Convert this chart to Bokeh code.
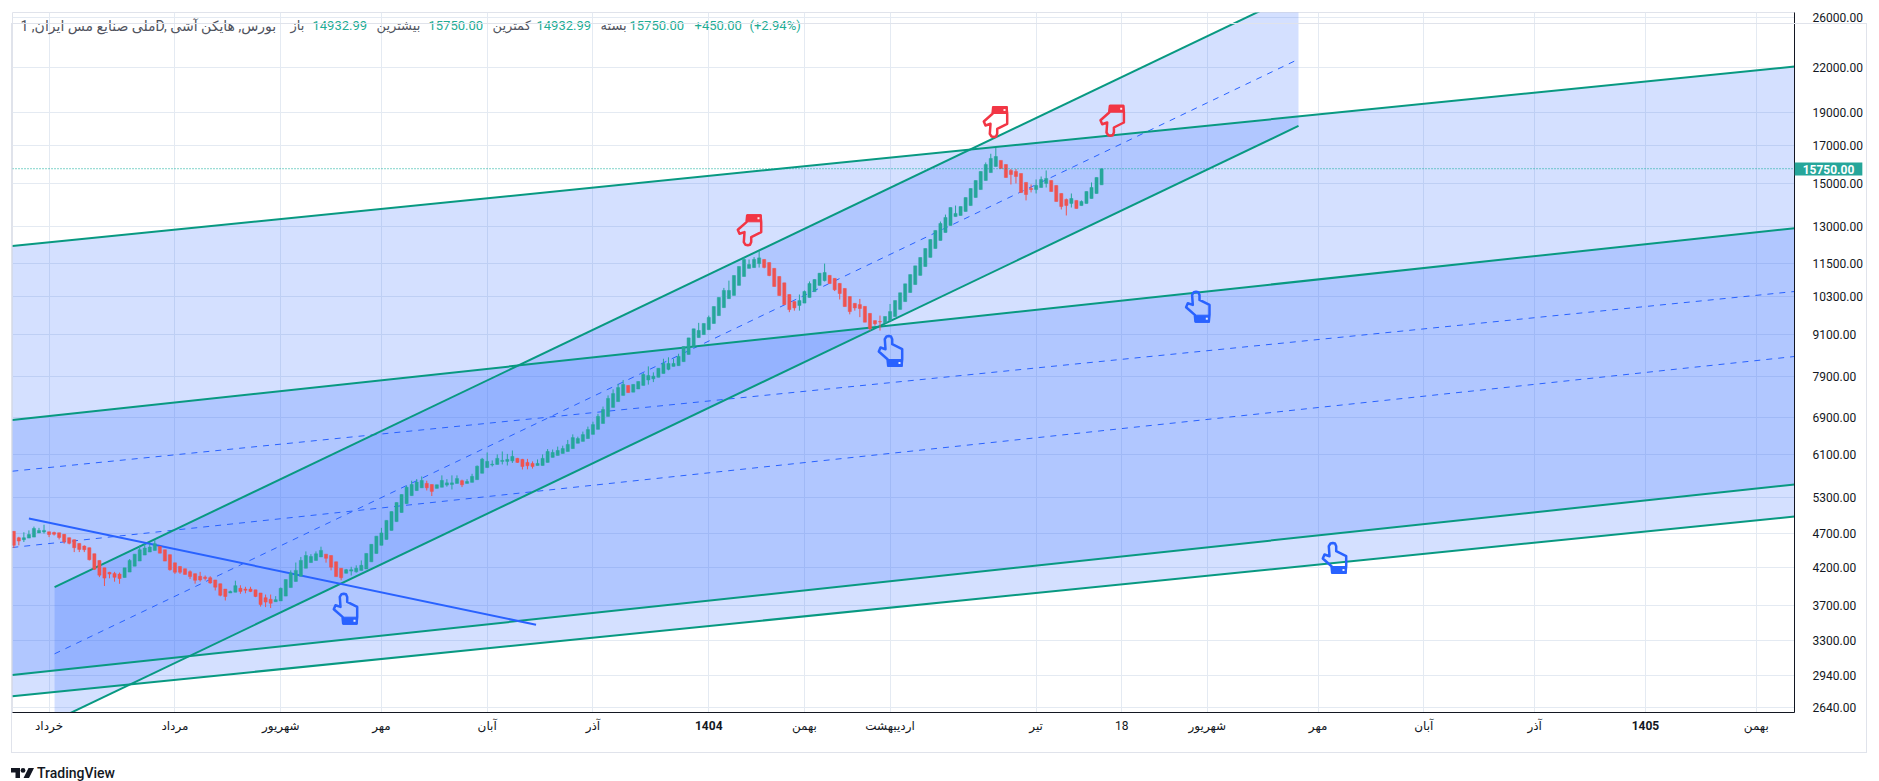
import math
from bokeh.plotting import figure
from bokeh.embed import file_html
from bokeh.layouts import column
from bokeh.resources import INLINE
from bokeh.models import (ColumnDataSource, Div, FixedTicker, Label, LinearAxis, PolyAnnotation,
                          PrintfTickFormatter, Range1d, Span)

# ---- data -----------------------------------------------------------------------
opens = [4735,4635,4605,4630,4645,4710,4725,4727,4716,4712,4688,4636,4606,4549,4509,4485,4396,4299,4196,4133,
 4119,4109,4063,4137,4219,4291,4377,4421,4445,4503,4454,4383,4265,4214,4183,4143,4115,4079,4068,4061,
 4030,3980,3910,3860,3870,3920,3910,3910,3900,3860,3800,3780,3750,3760,3820,3930,4010,4080,4190,4270,
 4300,4350,4390,4370,4280,4190,4120,4150,4140,4160,4180,4280,4400,4520,4610,4750,4890,5040,5190,5330,
 5420,5470,5550,5530,5460,5480,5520,5530,5550,5600,5550,5570,5620,5740,5850,5900,5910,5970,5970,5980,
 6030,6010,5950,5930,5890,5890,5950,6050,6090,6130,6170,6230,6340,6380,6440,6530,6640,6770,6930,7140,
 7280,7430,7680,7510,7590,7680,7820,7850,7890,7990,8100,8180,8200,8310,8510,8740,9000,9090,9240,9430,
 9680,9940,10240,10350,10700,11020,11320,11350,11500,11660,11540,11320,11020,10790,10380,10140,10010,10090,10280,10480,
 10700,10870,11060,10950,10770,10590,10310,10080,10040,9980,9750,9520,9490,9450,9520,9650,9880,10140,10450,10730,
 11060,11390,11740,12090,12420,12750,13050,13440,13490,13670,13940,14320,14700,15150,15550,15870,16190,15970,15660,15610,
 15500,15050,14750,14700,14800,15000,15150,14900,14510,14220,14040,14180,13940,14040,14270,14510,14932.99]
closes = [4520,4585,4635,4685,4780,4750,4750,4685,4690,4640,4575,4550,4485,4460,4455,4310,4175,4095,4055,4110,
 4065,4050,4195,4300,4390,4455,4480,4495,4545,4405,4290,4170,4135,4135,4105,4075,4025,4030,4050,3990,
 3935,3830,3815,3880,3955,3880,3895,3880,3815,3715,3745,3730,3775,3920,4035,4125,4160,4300,4370,4355,
 4395,4445,4330,4205,4075,4060,4170,4170,4190,4230,4400,4535,4660,4710,4910,5055,5210,5350,5480,5530,
 5575,5605,5470,5405,5525,5605,5560,5560,5640,5525,5585,5680,5875,6015,5970,5915,6030,5990,6010,6070,
 5950,5870,5885,5870,5930,6030,6170,6150,6190,6230,6315,6460,6440,6525,6635,6745,6930,7090,7355,7475,
 7625,7705,7500,7705,7780,7965,7935,7920,8130,8260,8260,8260,8455,8735,8990,9265,9215,9430,9620,9975,
 10280,10520,10520,11055,11390,11660,11465,11660,11720,11355,11055,10660,10345,10040,9875,9930,10175,10485,10765,10910,
 11140,11165,10765,10545,10415,9975,9810,9930,9910,9470,9275,9420,9480,9650,9810,10175,10440,10755,11090,11415,
 11735,12090,12455,12835,13135,13400,13850,13580,13895,14315,14750,15145,15605,15970,16295,16400,15760,15300,15450,15350,
 14555,14460,14700,14900,15200,15250,14605,14130,13895,13945,14270,13805,14130,14605,14800,15300,15750]
wick_highs = {1:4650,2:4720,3:4750,4:4810,5:4790,6:4840,8:4730,14:4520,19:4140,20:4140,21:4130,23:4320,25:4520,26:4540,27:4540,28:4600,35:4160,37:4140,38:4090,39:4080,
 43:3890,44:4020,45:3960,46:3940,47:3940,50:3840,51:3840,52:3820,53:3930,55:4160,56:4270,57:4350,58:4430,59:4390,60:4430,61:4500,66:4180,67:4210,68:4230,69:4300,
 73:4790,78:5510,79:5600,80:5630,81:5680,82:5600,85:5700,86:5630,87:5700,88:5700,89:5620,90:5630,91:5730,92:5890,93:6040,94:6150,95:5990,96:6110,97:6170,98:6120,
 99:6190,100:6040,101:6020,102:6020,103:5970,104:6010,105:6110,106:6220,107:6210,108:6270,109:6290,110:6410,111:6530,112:6480,113:6590,114:6700,115:6810,116:6990,117:7160,118:7430,
 119:7580,120:7720,121:7820,125:8000,126:8180,127:8020,129:8390,130:8430,131:8390,132:8530,136:9450,138:9680,141:10610,142:10870,145:11750,146:11660,147:11750,148:12010,156:10380,157:10520,
 158:10840,161:11500,168:10230,172:9680,174:10060,184:13220,185:13530,187:13940,193:16080,194:16550,195:16880,198:15740,199:15740,202:14950,203:15200,204:15350,205:15660,209:14270,210:14510,212:14180,
 214:15050}
wick_lows = {0:4480,1:4520,2:4570,6:4700,7:4645,8:4670,9:4610,10:4545,11:4535,12:4420,13:4420,14:4420,15:4300,16:4165,17:4068,18:3950,19:4052,20:4007,21:3979,
 31:4156,32:4112,33:4112,35:4043,36:3981,37:4008,38:4023,39:3981,40:3892,41:3817,42:3765,45:3850,46:3856,47:3871,48:3807,49:3690,50:3683,51:3672,
 62:4268,63:4160,65:4025,67:4090,68:4130,82:5422,83:5323,86:5490,87:5440,89:5483,95:5870,97:5910,98:5890,99:5940,100:5940,101:5812,102:5815,103:5830,
 126:7700,127:7765,130:8075,148:11350,149:11320,150:11030,154:9790,155:9840,156:9840,161:10840,163:10500,164:10210,166:9720,167:9840,168:9630,170:9210,171:9360,172:9210,
 198:14950,199:15000,201:14180,202:14560,203:14510,205:14800,208:13760,209:13490,210:13850}
highs = [wick_highs.get(i, max(o, c)) for i, (o, c) in enumerate(zip(opens, closes))]
lows = [wick_lows.get(i, min(o, c)) for i, (o, c) in enumerate(zip(opens, closes))]

# channels: bar index and price at both ends
wide_x = [-0.3, 353.6]
chan1_upper = [12187, 22102]; chan1_mid = [5779, 10485]; chan1_lower = [2741, 4974]
chan2_upper = [6850, 12932];  chan2_mid = [4488, 8453];  chan2_lower = [2940, 5530]
steep_x = [8.1, 255.1]
chan3_upper = [3935, 28237];  chan3_mid = [3155, 22644]; chan3_lower = [2529, 18152]
trend_x = [3.0, 103.7]; trend_y = [4941, 3474]

last_close = 15750
y_ticks = [26000,22000,19000,17000,15000,13000,11500,10300,9100,7900,6900,6100,5300,4700,4200,3700,3300,2940,2640]
x_ticks = [7,32,53,73,94,115,138,157,174,203,220,237,259,280,302,324,346]
x_labels = ["خرداد","مرداد","شهریور","مهر","آبان","آذر","1404","بهمن","اردیبهشت","تیر","18","شهریور","مهر","آبان","آذر","1405","بهمن"]
bold_labels = {"1404", "1405"}

FONT = "Roboto, 'DejaVu Sans'"
GREEN = "#26A69A"; RED = "#EF5350"; LINE = "#089981"; BLUE = "#2962FF"; INK = "#131722"; HAND_RED = "#F23645"

# page pixel -> data, for furniture that sits outside the plotted data
def dx(px): return (px - 13.3) / 5.036
def dy(py): return 26000 * math.exp(-(py - 17) / 301.7)

p = figure(frame_width=1782, frame_height=700, output_backend="svg", toolbar_location=None, tools="",
           y_axis_type="log", y_axis_location="right",
           x_range=Range1d(dx(12), dx(1794)), y_range=Range1d(dy(712), dy(12)),
           min_border_left=12, min_border_top=12, min_border_right=77, min_border_bottom=61)
p.outline_line_color = "#E0E3EB"
p.background_fill_color = "white"

p.xaxis.ticker = FixedTicker(ticks=x_ticks)
p.xaxis.major_label_overrides = {t: ("" if l in bold_labels else l) for t, l in zip(x_ticks, x_labels)}
p.yaxis.ticker = FixedTicker(ticks=y_ticks)
p.yaxis.formatter = PrintfTickFormatter(format="%.2f")
year_axis = LinearAxis(ticker=FixedTicker(ticks=[t for t, l in zip(x_ticks, x_labels) if l in bold_labels]),
                       major_label_overrides={t: l for t, l in zip(x_ticks, x_labels) if l in bold_labels},
                       major_label_text_font_style="bold", major_label_standoff=-15,
                       major_tick_out=0, major_tick_in=0,
                       axis_line_color=None)
p.add_layout(year_axis, "below")
for ax in (p.xaxis[0], p.yaxis[0], year_axis):
    if ax is not year_axis:
        ax.axis_line_color = INK
        ax.axis_line_width = 1
    ax.major_tick_line_color = None
    ax.minor_tick_line_color = None
    ax.major_label_text_font = FONT
    ax.major_label_text_font_size = "12px"
    ax.major_label_text_color = INK
p.yaxis.major_label_standoff = 12
p.xaxis[0].major_tick_out = 0
p.xaxis[0].major_tick_in = 0
p.xaxis[0].major_label_standoff = 6
p.xgrid.grid_line_color = "#E4EAF2"
p.ygrid.grid_line_color = "#E4EAF2"
p.xgrid.grid_line_width = 1
p.ygrid.grid_line_width = 1

# channel fills
for xs, up, lo in ((wide_x, chan1_upper, chan1_lower), (wide_x, chan2_upper, chan2_lower), (steep_x, chan3_upper, chan3_lower)):
    p.patch(xs + xs[::-1], up + lo[::-1], fill_color=BLUE, fill_alpha=0.2, line_color=None)
# middle dashes
for xs, mid in ((wide_x, chan1_mid), (wide_x, chan2_mid), (steep_x, chan3_mid)):
    p.line(xs, mid, line_color=BLUE, line_width=1, line_dash="6 6")
# channel borders
for xs, ys in ((wide_x, chan1_upper), (wide_x, chan1_lower), (wide_x, chan2_upper), (wide_x, chan2_lower),
               (steep_x, chan3_upper), (steep_x, chan3_lower)):
    p.line(xs, ys, line_color=LINE, line_width=2)
p.line(trend_x, trend_y, line_color=BLUE, line_width=2)

# candles
idx = list(range(len(opens)))
src = ColumnDataSource(dict(x=idx, top=[max(o, c) for o, c in zip(opens, closes)],
                            bottom=[min(o, c) for o, c in zip(opens, closes)],
                            high=highs, low=lows,
                            color=[GREEN if c >= o else RED for o, c in zip(opens, closes)]))
p.segment("x", "high", "x", "low", source=src, line_color="color", line_width=1)
p.vbar("x", 0.62, "top", "bottom", source=src, fill_color="color", line_color="color", line_width=0.5)

# last price line
p.add_layout(Span(location=last_close, dimension="width", line_color="#00A896", line_width=1, line_dash="1 2"))

def poly(pts, **kw):
    p.add_layout(PolyAnnotation(xs=[dx(x) for x, y in pts], ys=[dy(y) for x, y in pts], xs_units="data", ys_units="data", **kw))

def label(px, py, text, color=INK, size="13px", align="left", style="normal", side=None, **kw):
    a = Label(x=dx(px), y=dy(py), text=text, text_color=color, text_font=FONT, text_font_size=size,
              text_align=align, text_baseline="middle", text_font_style=style, **kw)
    if side: p.add_layout(a, side)
    else: p.add_layout(a)

# last price tag: a label in a side panel is not clipped to the frame
tag = {"background_fill_color": GREEN}
if "padding" in Label.properties():
    tag["padding"] = (8, 2)
label(1828, 168.5, "15750.00", color="white", size="12px", align="center", style="bold", side="below", **tag)

# header
GREY = "#50535E"
label(20, 25, "ملی صنایع مس ایران, 1D, بورس, هایکن آشی", color=GREY, size="14px")
VAL = "#22AB94"
for px, tx, col in ((290, "باز", GREY), (312, "14932.99", VAL), (376, "بیشترین", GREY), (428, "15750.00", VAL),
                    (492, "کمترین", GREY), (536, "14932.99", VAL), (600, "بسته", GREY), (629, "15750.00", VAL),
                    (694, "+450.00", VAL), (749, "(+2.94%)", VAL)):
    label(px, 25, tx, color=col)

# hands (drawn pointing up; flipped for the red ones)
HAND = [(-5.7, -12.3), (-4, -15), (-1.7, -15.5), (0.5, -15), (1.7, -12.3), (1.7, -7.3), (11.7, -2.3), (11.7, 7.7), (11, 14.3),
        (-2.3, 14.3), (-3, 7.7), (-11.7, 0), (-10, -4), (-5, -2.3)]
CUFF = [(-3, 8), (11.7, 8), (11.7, 15), (-2.5, 15)]
SPOT = [(8, 10.5), (10, 10.5), (10, 12.5), (8, 12.5)]
def hand(cx, cy, color, flip):
    sg = -1 if flip else 1
    tr = lambda pts: [(cx + a, cy + sg * b) for a, b in pts]
    poly(tr(HAND), fill_alpha=0, line_color=color, line_alpha=1, line_width=2.5, line_join="round")
    poly(tr(CUFF), fill_color=color, fill_alpha=1, line_color=color, line_alpha=1, line_width=1)
    poly(tr(SPOT), fill_color="white", fill_alpha=0.9, line_color=None)
for cx, cy in ((345, 608.7), (890, 351), (1197.3, 306.7), (1334, 558)):
    hand(cx, cy, BLUE, False)
for cx, cy in ((749, 229.3), (995, 121), (1111.7, 119.7)):
    hand(cx, cy, HAND_RED, True)

# outer border and brand, anchored to the bottom edge of the figure
frame_h = 773
overlay = f"""<div style="position:relative;width:0;height:0;pointer-events:none">
<div style="position:absolute;left:11px;top:{11-frame_h}px;width:1856px;height:730px;border:1px solid #E0E3EB;box-sizing:border-box"></div>
<svg style="position:absolute;left:11px;top:{756-frame_h}px" width="24" height="11" viewBox="0 0 24 11">
<path d="M0 0H9V10H4.5V4.5H0Z M17.5 0H23L18 10H12.5Z" fill="{INK}"/><circle cx="12" cy="2.4" r="2.4" fill="{INK}"/></svg>
<div style="position:absolute;left:37px;top:{752-frame_h}px;font:500 14px/18px Roboto,sans-serif;color:{INK};white-space:nowrap">TradingView</div></div>"""
note = Div(text=overlay, width=1871, height=1, margin=0, styles={"overflow": "visible"})

open("out.html", "w").write(file_html(column(p, note, spacing=0), INLINE))
